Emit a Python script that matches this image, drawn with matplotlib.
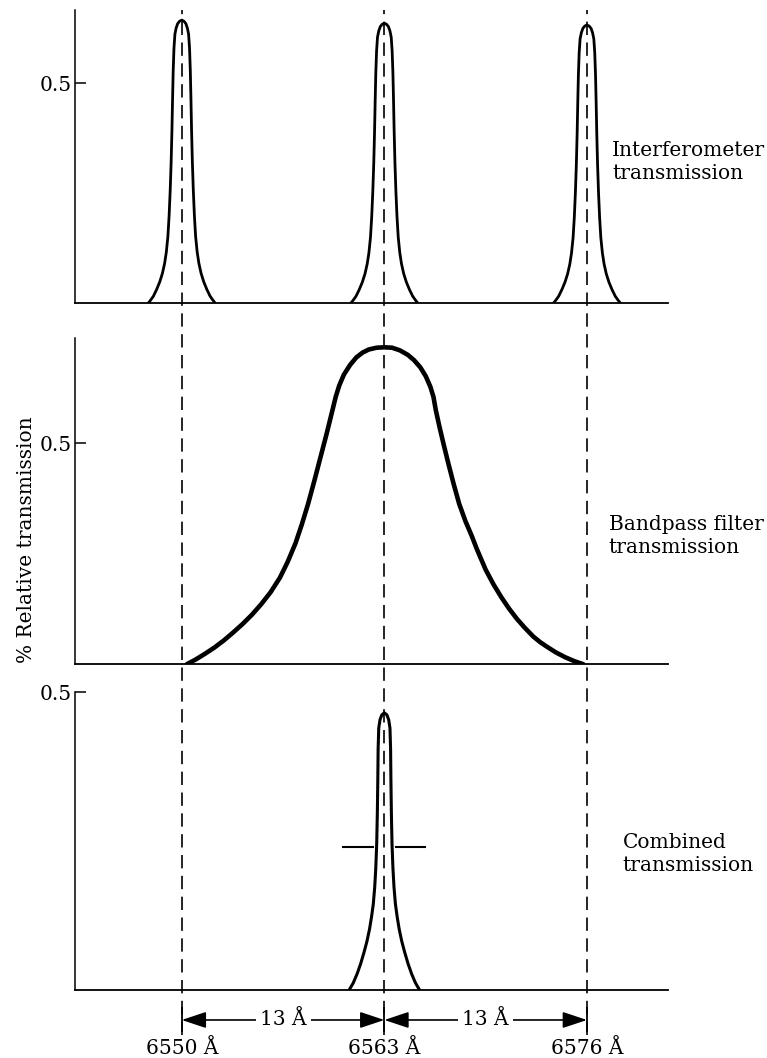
import matplotlib
matplotlib.use("Agg")
import matplotlib.pyplot as plt

# ---------------- data ----------------
line_centers = [6550, 6563, 6576]              # Angstrom
line_labels = ["6550 Å", "6563 Å", "6576 Å"]
spacing_label = "13 Å"

# Interferometer fringe profile: offset from centre (Å) and fraction of peak height
fp_offset = [-2.14, -2.0, -1.82, -1.61, -1.41, -1.24, -1.10, -0.99, -0.89, -0.81, -0.74,
             -0.68, -0.63, -0.59, -0.55, -0.50, -0.44, -0.36, -0.26, -0.14, 0.0,
             0.14, 0.26, 0.36, 0.44, 0.50, 0.55, 0.59, 0.63, 0.68, 0.74, 0.81,
             0.89, 0.99, 1.10, 1.24, 1.41, 1.61, 1.82, 2.0, 2.14]
fp_fraction = [0.0, 0.01, 0.024, 0.048, 0.075, 0.105, 0.14, 0.18, 0.235, 0.31, 0.40,
               0.50, 0.61, 0.72, 0.82, 0.90, 0.95, 0.972, 0.988, 0.996, 1.0,
               0.996, 0.988, 0.972, 0.95, 0.90, 0.82, 0.72, 0.61, 0.50, 0.40, 0.31,
               0.235, 0.18, 0.14, 0.105, 0.075, 0.048, 0.024, 0.01, 0.0]
fp_peak_heights = [0.643, 0.636, 0.632]

# Bandpass filter transmission: offset from 6563 Å and transmission
bp_offset = [-12.68, -12.1, -11.5, -10.9, -10.3, -9.7, -9.1, -8.5, -7.9, -7.3, -6.7,
             -6.2, -5.7, -5.3, -4.9, -4.5, -4.1, -3.7, -3.35, -3.12, -2.9, -2.6, -2.2,
             -1.8, -1.4, -1.0, -0.5, 0.0,
             0.5, 1.0, 1.5, 1.9, 2.3, 2.65, 2.95, 3.15, 3.3, 3.55, 3.8, 4.1, 4.43,
             4.8, 5.2, 5.6, 5.93, 6.5, 7.0, 7.5, 8.0, 8.5, 9.0, 9.55, 10.0, 10.42,
             11.0, 11.6, 12.2, 12.77]
bp_value = [0.0, 0.011, 0.024, 0.038, 0.054, 0.072, 0.091, 0.112, 0.136, 0.163, 0.196,
            0.232, 0.274, 0.316, 0.362, 0.414, 0.468, 0.522, 0.572, 0.605, 0.630, 0.655,
            0.677, 0.694, 0.705, 0.712, 0.716, 0.717,
            0.716, 0.710, 0.700, 0.688, 0.672, 0.652, 0.628, 0.605, 0.575, 0.535, 0.498,
            0.455, 0.41, 0.363, 0.324, 0.291, 0.261, 0.214, 0.181, 0.152, 0.126, 0.103,
            0.083, 0.063, 0.050, 0.040, 0.027, 0.016, 0.007, 0.0]

# Combined transmission profile: offset from 6563 Å and fraction of peak height
cb_offset = [-2.26, -2.0, -1.75, -1.52, -1.31, -1.12, -0.95, -0.82, -0.71, -0.62, -0.55,
             -0.49, -0.45, -0.42, -0.40, -0.36, -0.28, -0.16, 0.0,
             0.16, 0.28, 0.36, 0.40, 0.42, 0.45, 0.49, 0.55, 0.62, 0.71, 0.82, 0.95,
             1.12, 1.31, 1.52, 1.75, 2.0, 2.26]
cb_fraction = [0.0, 0.025, 0.058, 0.095, 0.135, 0.175, 0.22, 0.265, 0.31, 0.37, 0.44,
               0.53, 0.64, 0.76, 0.87, 0.945, 0.975, 0.993, 1.0,
               0.993, 0.975, 0.945, 0.87, 0.76, 0.64, 0.53, 0.44, 0.37, 0.31, 0.265, 0.22,
               0.175, 0.135, 0.095, 0.058, 0.025, 0.0]
cb_peak_height = 0.465
cb_half_level = 0.24
cb_half_extent = 2.7     # Å, half length of the half-maximum marker
cb_half_gap = 0.68       # Å, marker interrupted around the profile

panel_texts = ["Interferometer\ntransmission", "Bandpass filter\ntransmission",
               "Combined\ntransmission"]
ylabel = "% Relative transmission"

# ---------------- styling ----------------
plt.rcParams["font.family"] = ["DejaVu Serif"]
plt.rcParams["font.size"] = 14.5
FS = 14.5
XLIM = (6543.15, 6581.2)

fig = plt.figure(figsize=(7.67, 10.58), dpi=100)
fig.patch.set_facecolor("white")

L, W = 75 / 767, (668 - 75) / 767
def box(top_px, bot_px):
    return [L, 1 - bot_px / 1058, W, (bot_px - top_px) / 1058]

ax1 = fig.add_axes(box(10, 303))
ax2 = fig.add_axes(box(338, 664.3))
ax3 = fig.add_axes(box(692, 990))
ov = fig.add_axes(box(10, 1035), zorder=0)
ov.set_xlim(*XLIM)
ov.set_ylim(0, 1)
ov.axis("off")
ov.patch.set_alpha(0)

for ax, top in ((ax1, 0.666), (ax2, 0.738), (ax3, 0.5)):
    ax.set_xlim(*XLIM)
    ax.set_ylim(0, top)
    ax.patch.set_alpha(0)
    for s in ("top", "right"):
        ax.spines[s].set_visible(False)
    ax.spines["left"].set_linewidth(1.1)
    ax.spines["bottom"].set_linewidth(1.3)
    ax.set_yticks([0.5])
    ax.set_yticklabels(["0.5"])
    ax.tick_params(axis="y", direction="in", length=8, width=1.1, pad=2, labelsize=FS)
    ax.tick_params(axis="x", length=0)
    ax.set_xticks([])

# dashed reference lines across all panels
for c in line_centers:
    ov.axvline(c, ymin=0, ymax=1, color="black", lw=1.2, ls=(0, (8, 4.5)))

# Panel 1: interferometer fringes
for c, h in zip(line_centers, fp_peak_heights):
    xs = [c + o for o in fp_offset]
    ys = [h * f for f in fp_fraction]
    ax1.plot(xs, ys, color="black", lw=2.0, solid_capstyle="round", solid_joinstyle="round")

# Panel 2: bandpass filter
ax2.plot([line_centers[1] + o for o in bp_offset], bp_value, color="black", lw=3.3,
         solid_capstyle="round", solid_joinstyle="round")

# Panel 3: combined
ax3.plot([line_centers[1] + o for o in cb_offset],
         [cb_peak_height * f for f in cb_fraction], color="black", lw=2.2,
         solid_capstyle="round", solid_joinstyle="round")
ax3.hlines(cb_half_level, line_centers[1] - cb_half_extent, line_centers[1] - cb_half_gap,
           color="black", lw=1.5)
ax3.hlines(cb_half_level, line_centers[1] + cb_half_gap, line_centers[1] + cb_half_extent,
           color="black", lw=1.5)

# side texts
ax1.text(6577.6, 0.32, panel_texts[0], ha="left", va="center", fontsize=FS, linespacing=1.3)
ax2.text(6577.4, 0.29, panel_texts[1], ha="left", va="center", fontsize=FS, linespacing=1.3)
ax3.text(6578.3, 0.228, panel_texts[2], ha="left", va="center", fontsize=FS, linespacing=1.3)

fig.text(27 / 767, 1 - 540 / 1058, ylabel, rotation=90, ha="center", va="center", fontsize=FS)

# wavelength labels and spacing arrows below panel 3
ax3.set_xticks(line_centers)
ax3.set_xticklabels(line_labels, fontsize=FS)
ax3.tick_params(axis="x", length=0, pad=35)

y_arrow = -0.0503
ax3.vlines(line_centers, -0.0705, -0.0285, color="black", lw=1.3, clip_on=False)
for a, b in ((line_centers[0], line_centers[1]), (line_centers[1], line_centers[2])):
    ax3.annotate("", xy=(a, y_arrow), xytext=(b, y_arrow), xycoords="data",
                 annotation_clip=False,
                 arrowprops=dict(arrowstyle="<|-|>,head_length=0.75,head_width=0.25",
                                 color="black", lw=1.2, shrinkA=0, shrinkB=0,
                                 mutation_scale=20))
    ax3.text((a + b) / 2, y_arrow, spacing_label, ha="center", va="center", fontsize=FS,
             bbox=dict(facecolor="white", edgecolor="none", pad=3), clip_on=False)

fig.savefig("out.png", dpi=100, facecolor="white")
